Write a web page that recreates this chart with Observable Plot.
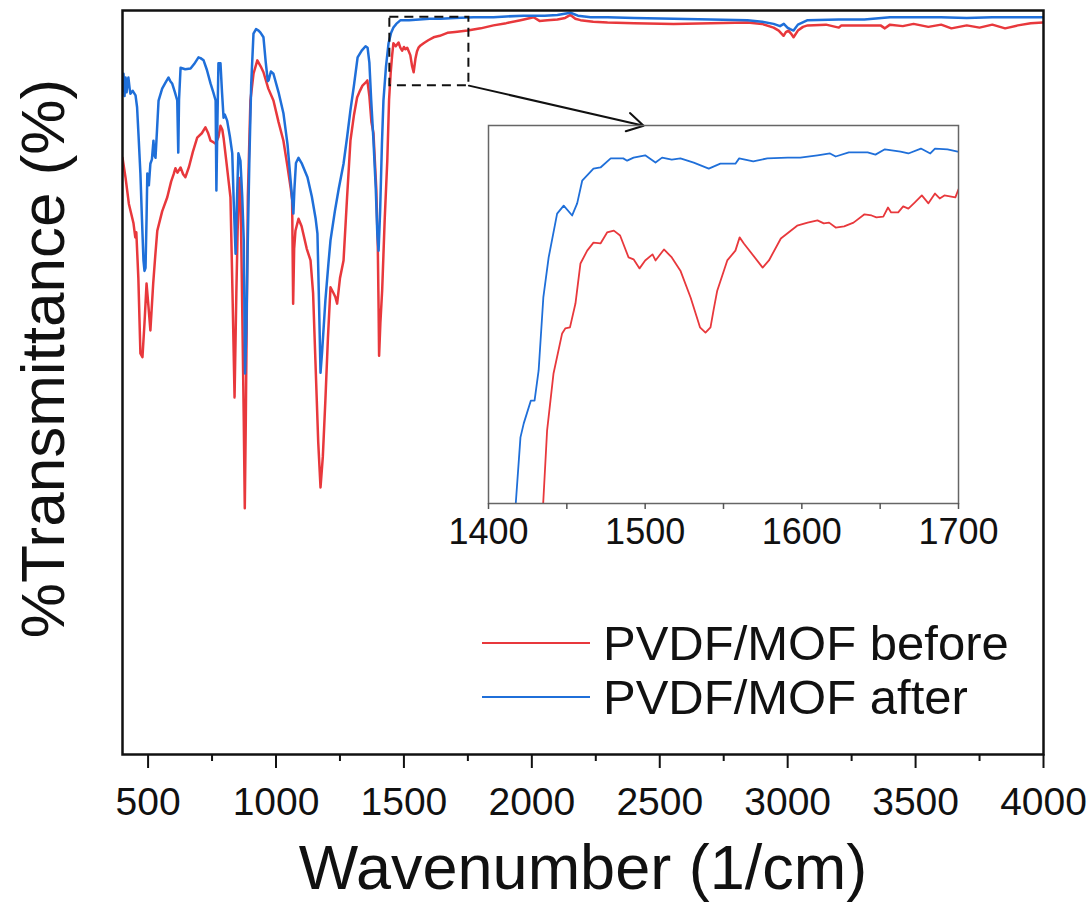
<!DOCTYPE html>
<html>
<head>
<meta charset="utf-8">
<script src="https://cdn.jsdelivr.net/npm/d3@7"></script>
<script src="https://cdn.jsdelivr.net/npm/@observablehq/plot@0.6"></script>
<style>
  html, body { margin: 0; padding: 0; background: #fff; }
  #wrap { position: relative; width: 1091px; height: 908px; overflow: hidden; }
</style>
</head>
<body>
<div id="wrap"></div>
<script>
// ---------- data ----------
const seriesNames = ["PVDF/MOF before", "PVDF/MOF after"];
const xTitle = "Wavenumber (1/cm)";
const yTitle = "%Transmittance (%)";
const majorTicks = [500, 1000, 1500, 2000, 2500, 3000, 3500, 4000];
const minorTicks = [750, 1250, 1750, 2250, 2750, 3250, 3750];
const insetTicks = [1400, 1450, 1500, 1550, 1600, 1650, 1700];
const insetLabels = [1400, 1500, 1600, 1700];

// [wavenumber, transmittance (arbitrary %)]
const redMain = [
[400,80.2],[412,77.5],[425,74.0],[443,71.4],[450,69.5],[454,70.2],[462,64],[470,53.9],[478,53.4],[486,58],[494,63.3],[502,60],[509,57.0],[520,63.3],[528,67],[536,70.4],[555,73],[575,74.9],[590,77],[600,78],[607,78.8],[615,78.2],[627,78.9],[637,78],[646,77.6],[660,79],[675,81],[692,82.9],[710,83.5],[724,84.3],[735,83.5],[744,82.5],[755,82.3],[764,82.1],[775,83],[783,84.5],[790,84],[795,82.9],[805,80],[815,77],[822,74.9],[830,62],[838,48.0],[845,62],[850,70.4],[857,77.5],[862,74],[868,60],[874,45],[878,33.1],[882,45],[890,75],[900,87.9],[912,91.5],[927,93.3],[940,92.5],[951,91.7],[970,89.5],[990,87.9],[1010,85],[1029,82.5],[1045,79],[1058,76],[1063,74.5],[1067,60.6],[1071,68],[1076,70.4],[1088,72.0],[1100,71],[1120,68],[1135,66.4],[1145,62],[1154,53.0],[1165,42],[1174,35.9],[1183,40],[1193,47.6],[1203,56],[1213,62.8],[1225,62],[1232,61.5],[1239,60.6],[1250,64],[1264,66.4],[1278,75],[1291,82.5],[1305,86],[1317,88.3],[1328,89.2],[1338,89.9],[1350,90.3],[1357,90.6],[1365,88.5],[1373,85],[1381,83.5],[1392,76],[1398,68],[1401,60],[1403,53.6],[1408,58],[1415,62.4],[1425,72],[1435,79.8],[1442,88],[1448,91.5],[1454,94],[1459,95.6],[1468,95.2],[1479,95.7],[1486,95],[1493,94.6],[1500,95.1],[1506,94.8],[1513,95.0],[1525,94],[1532,92.5],[1538,91.7],[1545,93.5],[1551,94.5],[1557,95.0],[1565,95.3],[1577,95.6],[1595,96],[1616,96.4],[1640,96.6],[1670,97.0],[1700,97.1],[1749,97.3],[1800,97.6],[1850,98.0],[1900,98.3],[1956,98.7],[2007,99.1],[2030,98.6],[2061,98.7],[2100,98.8],[2130,99],[2151,99.4],[2170,98.9],[2190,98.7],[2240,98.5],[2296,98.4],[2400,98.3],[2554,98.2],[2700,98.3],[2843,98.4],[2900,98.2],[2945,97.7],[2965,97.3],[2984,96.6],[2993,97.1],[3003,97.3],[3013,96.9],[3023,96.4],[3040,97.3],[3060,97.8],[3078,98.0],[3150,98.1],[3200,97.7],[3210,98.0],[3300,98.0],[3363,98.0],[3380,97.6],[3400,98.1],[3450,97.9],[3492,98.2],[3550,97.8],[3600,98.1],[3640,97.6],[3700,98.0],[3750,97.7],[3800,98.1],[3850,97.6],[3900,98.0],[3950,98.3],[4000,98.4]
];
const blueMain = [
[400,89.2],[404,91.5],[408,88.5],[412,91.0],[416,89],[420,90.5],[423,91.0],[428,89.5],[431,88.8],[440,89.2],[451,88.6],[457,87.0],[463,83],[470,78.1],[476,72],[482,66.4],[486,65],[490,65.4],[494,72],[497,78.1],[503,76.5],[509,79.4],[515,80],[521,82.5],[525,80.5],[529,80.2],[535,84],[541,87.9],[555,89.5],[568,90.3],[580,91.0],[587,90.5],[594,90.2],[605,89],[614,87.9],[618,80.9],[621,88],[627,92.3],[645,92.1],[666,92.2],[680,92.8],[697,93.7],[705,93.6],[717,93.3],[730,92],[744,90.2],[755,89],[764,87.9],[767,75.8],[771,85],[775,92.9],[783,92.9],[789,89],[795,85.6],[800,86],[809,85.2],[820,83],[829,80.8],[835,74],[842,67.3],[847,74],[853,80.8],[861,79.8],[868,75],[874,69.1],[879,51.2],[884,57],[889,67.7],[896,80],[903,90],[912,96.9],[922,97.5],[932,97.3],[940,97],[951,96.4],[960,93],[968,90.5],[971,90.6],[980,91.8],[990,91.5],[1010,89],[1029,86.2],[1045,82],[1060,76],[1068,72.7],[1072,76],[1078,79.5],[1088,80.2],[1100,79.5],[1123,77.6],[1140,75],[1155,72],[1162,70.0],[1168,61],[1174,51.3],[1180,54],[1193,61.0],[1205,66],[1213,69.1],[1230,73],[1245,76],[1264,79.4],[1278,83],[1291,86.6],[1305,90],[1319,93.7],[1335,94.6],[1350,95.2],[1358,95.0],[1365,93],[1372,88],[1381,82.5],[1390,76],[1396,70],[1401,67.7],[1407,73],[1414,82],[1420,87.9],[1430,92.5],[1440,95.6],[1450,97],[1459,97.7],[1470,98.2],[1487,98.7],[1520,98.7],[1560,98.8],[1600,98.9],[1643,98.9],[1700,99],[1772,99.1],[1850,99.1],[1900,99.2],[1967,99.3],[2050,99.3],[2100,99.4],[2151,99.7],[2180,99.3],[2230,99.1],[2296,99.1],[2400,99.0],[2554,98.9],[2700,98.8],[2843,98.7],[2900,98.5],[2945,98.2],[2970,97.9],[2985,98.2],[2999,97.7],[3010,97.5],[3023,97.3],[3040,98.1],[3078,98.7],[3200,98.8],[3300,98.8],[3400,99.1],[3492,99.1],[3600,99.1],[3700,99.0],[3800,99.1],[4000,99.1]
];
// inset (zoom of 1400–1700 region), own arbitrary units
const redInset = [
[1434.5,-3],[1434.9,0],[1437.4,19.3],[1441.5,34.4],[1447,45.0],[1449,46.3],[1452,46.6],[1455.5,52.9],[1458.7,63.5],[1463,66.9],[1467,69.0],[1471.5,68.8],[1475.7,71.7],[1480,72.2],[1484,70.9],[1489.4,65.1],[1492.6,64.6],[1496.4,62.2],[1500,64.3],[1504.7,65.9],[1506.6,64.3],[1512,67.2],[1517,65.1],[1522.5,61.6],[1529,54.5],[1535,46.6],[1538.5,45.2],[1541.7,46.6],[1543.8,51.5],[1546,56.3],[1552.4,64.3],[1557.6,66.9],[1560.3,70.4],[1563,68.8],[1575,62.4],[1579,64.3],[1586.6,70.1],[1597,73.5],[1603.7,74.3],[1610,74.9],[1614,74.1],[1617.4,74.3],[1621.6,73.0],[1627,73.3],[1633,74.3],[1640,76.5],[1644.5,76.2],[1647.6,75.7],[1652,75.9],[1655,78.3],[1657,77.0],[1661.5,77.0],[1664.7,78.6],[1668,78.0],[1672,79.6],[1676.6,81.5],[1680.8,79.4],[1685,82.0],[1688,80.7],[1691,81.5],[1698,81.0],[1700,83.1]
];
const blueInset = [
[1416.9,-3],[1417.4,0],[1420.4,17.5],[1422.5,21.2],[1427,27.2],[1429.4,27.2],[1432,35.2],[1435,54.5],[1438.4,65.1],[1443.8,76.7],[1448,78.8],[1453.4,76.2],[1456.6,79.4],[1459.8,85.4],[1467,88.6],[1471.5,88.9],[1478,91.3],[1486,91.3],[1488.5,90.7],[1492.6,91.5],[1500,92.1],[1506.6,90.2],[1510.8,91.5],[1517,91.0],[1522.5,91.3],[1531,90.2],[1540.6,88.6],[1548,89.9],[1557.6,89.9],[1560,91.3],[1569,90.5],[1578,91.3],[1591,91.5],[1599,91.5],[1610,92.1],[1618,92.6],[1621.6,91.8],[1630,92.9],[1642,92.9],[1647,92.3],[1653,93.7],[1663,93.1],[1668,92.6],[1676,93.9],[1682,92.6],[1685,93.9],[1693,93.7],[1699.5,93.1]
];
// dashed zoom box and arrow (main-chart data units)
const zoomBox = [{x1: 1445, x2: 1754, y1: 89.9, y2: 99.1}];
const zoomArrow = [{x1: 1754, y1: 89.9, x2: 2437, y2: 84.5}];

// ---------- build ----------
const RED = "#e8383c", BLUE = "#1f6fd9";
const FONT = "Arial, 'Liberation Sans', Helvetica, sans-serif";
const toRows = a => a.map(([wn, t]) => ({wn, t}));

const main = Plot.plot({
  width: 1091, height: 908,
  marginLeft: 122, marginRight: 48, marginTop: 10, marginBottom: 154,
  x: {domain: [400, 4000]},
  y: {domain: [0, 100], axis: null},
  style: {fontFamily: FONT, background: "white", color: "#111", overflow: "visible"},
  marks: [
    Plot.line(toRows(redMain), {x: "wn", y: "t", stroke: RED, strokeWidth: 2.5, clip: true}),
    Plot.line(toRows(blueMain), {x: "wn", y: "t", stroke: BLUE, strokeWidth: 2.5, clip: true}),
    Plot.rect(zoomBox, {x1: "x1", x2: "x2", y1: "y1", y2: "y2", fill: "none", stroke: "#111", strokeWidth: 2, strokeDasharray: "9,6"}),
    Plot.arrow(zoomArrow, {x1: "x1", y1: "y1", x2: "x2", y2: "y2", stroke: "#111", strokeWidth: 2, headLength: 14, bend: 0}),
    Plot.frame({stroke: "#111", strokeWidth: 2.5}),
    Plot.axisX({ticks: majorTicks, tickSize: 14, tickPadding: 19, fontSize: 39, strokeWidth: 2, tickFormat: "d", label: null}),
    Plot.axisX({ticks: minorTicks, tickSize: 7, strokeWidth: 2, text: null, label: null}),
    Plot.text([xTitle], {frameAnchor: "bottom", dy: 134, lineAnchor: "bottom", fontSize: 63, text: d => d, fill: "#111"}),
    Plot.text([yTitle], {frameAnchor: "left", dx: -78, dy: -24, rotate: -90, textAnchor: "middle", lineAnchor: "middle", fontSize: 62, text: d => d, fill: "#111"})
  ]
});

const inset = Plot.plot({
  width: 560, height: 438,
  marginLeft: 45, marginRight: 45, marginTop: 5, marginBottom: 55,
  x: {domain: [1400, 1700]},
  y: {domain: [0, 100], axis: null},
  style: {fontFamily: FONT, background: "transparent", color: "#111", overflow: "visible"},
  marks: [
    Plot.line(toRows(redInset), {x: "wn", y: "t", stroke: RED, strokeWidth: 1.8, clip: true}),
    Plot.line(toRows(blueInset), {x: "wn", y: "t", stroke: BLUE, strokeWidth: 1.8, clip: true}),
    Plot.frame({stroke: "#666", strokeWidth: 1.5}),
    Plot.axisX({ticks: insetTicks, tickSize: 6, tickPadding: 9, fontSize: 36, stroke: "#555", strokeWidth: 1.5,
      tickFormat: d => insetLabels.includes(d) ? String(d) : "", label: null})
  ]
});

const wrap = document.getElementById("wrap");
main.style.position = "absolute"; main.style.left = "0px"; main.style.top = "0px";
inset.style.position = "absolute"; inset.style.left = "443px"; inset.style.top = "120px";
wrap.appendChild(main);
wrap.appendChild(inset);

// legend (overlay)
const legendItems = seriesNames.map((name, i) => ({name, color: [RED, BLUE][i]}));
const leg = d3.create("svg").attr("width", 600).attr("height", 120)
  .style("position", "absolute").style("left", "470px").style("top", "610px")
  .style("font-family", FONT);
const g = leg.selectAll("g").data(legendItems).join("g")
  .attr("transform", (d, i) => `translate(0,${33 + i * 54})`);
g.append("line").attr("x1", 12).attr("x2", 120).attr("y1", 0).attr("y2", 0)
  .attr("stroke", d => d.color).attr("stroke-width", 2.2);
g.append("text").attr("x", 133).attr("y", 17).attr("font-size", 49).attr("fill", "#111").text(d => d.name);
wrap.appendChild(leg.node());
</script>
</body>
</html>
